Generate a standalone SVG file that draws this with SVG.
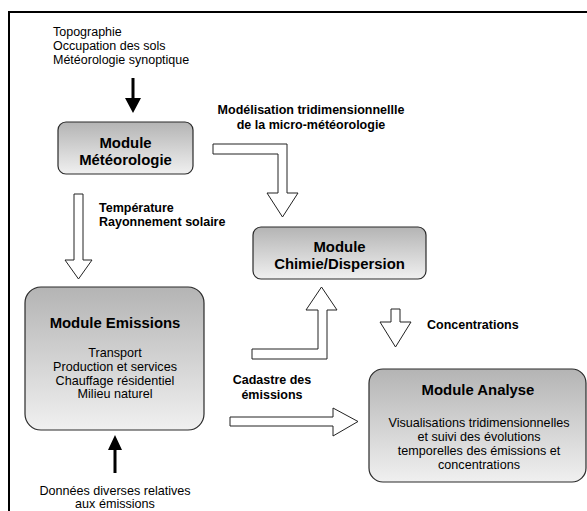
<svg xmlns="http://www.w3.org/2000/svg" width="587" height="511" viewBox="0 0 587 511">
  <defs>
    <linearGradient id="boxFill" x1="0" y1="0" x2="0" y2="1">
      <stop offset="0" stop-color="#b4b4b4"/>
      <stop offset="1" stop-color="#f0f0f0"/>
    </linearGradient>
    <style>
      .box { fill: url(#boxFill); stroke: #2a2a2a; stroke-width: 1.2; }
      .hollow { fill: #ffffff; stroke: #222222; stroke-width: 1; stroke-linejoin: miter; }
      .solid { fill: #000000; stroke: none; }
      text { font-family: "Liberation Sans", Arial, sans-serif; fill: #000000; }
      .title { font-size: 14.9px; font-weight: bold; text-anchor: middle; }
      .item { font-size: 12.6px; text-anchor: middle; }
      .note { font-size: 12.5px; }
      .label { font-size: 12.5px; font-weight: bold; }
    </style>
  </defs>

  <rect width="587" height="511" fill="#ffffff"/>
  <!-- frame: only top and left edges are drawn -->
  <path d="M9,511 V12 H587" fill="none" stroke="#000000" stroke-width="2"/>

  <!-- input notes -->
  <g id="inputs-top">
    <text class="note" x="53" y="36">Topographie</text>
    <text class="note" x="53" y="50">Occupation des sols</text>
    <text class="note" x="53" y="64">Météorologie synoptique</text>
  </g>
  <g id="inputs-bottom">
    <text class="item" x="115" y="495">Données diverses relatives</text>
    <text class="item" x="115" y="508">aux émissions</text>
  </g>

  <!-- modules -->
  <g id="module-meteo">
    <rect class="box" x="58" y="122" width="135" height="52" rx="8"/>
    <text class="title" x="125.5" y="148">Module</text>
    <text class="title" x="125.5" y="165">Météorologie</text>
  </g>
  <g id="module-chimie">
    <rect class="box" x="253" y="227" width="173" height="52" rx="8"/>
    <text class="title" x="339.5" y="252">Module</text>
    <text class="title" x="339.5" y="269">Chimie/Dispersion</text>
  </g>
  <g id="module-emissions">
    <rect class="box" x="25" y="287" width="179" height="143" rx="16"/>
    <text class="title" x="115" y="328">Module Emissions</text>
    <text class="item" x="115" y="357">Transport</text>
    <text class="item" x="115" y="371">Production et services</text>
    <text class="item" x="115" y="385">Chauffage résidentiel</text>
    <text class="item" x="115" y="398">Milieu naturel</text>
  </g>
  <g id="module-analyse">
    <rect class="box" x="369" y="369" width="217" height="113" rx="14"/>
    <text class="title" x="478" y="395">Module Analyse</text>
    <text class="item" x="479" y="427">Visualisations tridimensionnelles</text>
    <text class="item" x="479" y="441">et suivi des évolutions</text>
    <text class="item" x="479" y="455">temporelles des émissions et</text>
    <text class="item" x="479" y="469">concentrations</text>
  </g>

  <!-- connectors -->
  <g id="connectors">
    <!-- external inputs -->
    <path class="solid" d="M131.5,78 H134.5 V98 H141 L133,113 L125,98 H131.5 Z"/>
    <path class="solid" d="M113.5,473 H116.5 V450 H122 L115,435 L108,450 H113.5 Z"/>
    <!-- meteo -> chimie -->
    <path class="hollow" d="M213,144 H287 V193 H298 L282.5,217 L267,193 H278 V154 H213 Z"/>
    <!-- meteo -> emissions -->
    <path class="hollow" d="M74,194 H83 V260 H92 L78.5,279 L65,260 H74 Z"/>
    <!-- emissions -> chimie -->
    <path class="hollow" d="M252,349 H318 V310 H306 L321.5,287 L337,310 H327 V359 H252 Z"/>
    <!-- chimie -> analyse -->
    <path class="hollow" d="M391,309 H400 V322 H411 L395.5,347 L380,322 H391 Z"/>
    <!-- emissions -> analyse -->
    <path class="hollow" d="M230,417 H333 V408 L358,421.5 L333,436 V426 H230 Z"/>
  </g>

  <!-- connector labels -->
  <g id="connector-labels">
    <text class="label" x="311" y="114" text-anchor="middle">Modélisation tridimensionnellle</text>
    <text class="label" x="311" y="129" text-anchor="middle">de la micro-météorologie</text>
    <text class="label" x="99" y="212">Température</text>
    <text class="label" x="99" y="226">Rayonnement solaire</text>
    <text class="label" x="427" y="329">Concentrations</text>
    <text class="label" x="272" y="384" text-anchor="middle">Cadastre des</text>
    <text class="label" x="272" y="399" text-anchor="middle">émissions</text>
  </g>
</svg>
